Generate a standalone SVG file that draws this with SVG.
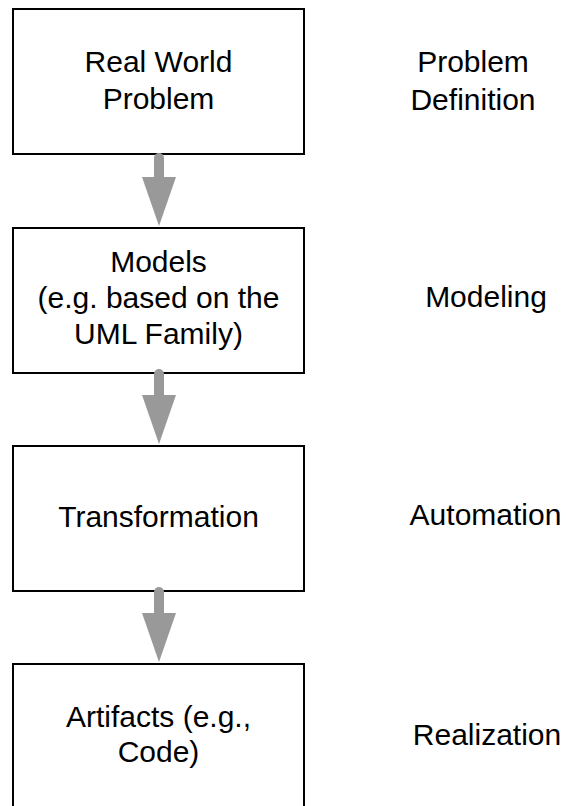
<svg xmlns="http://www.w3.org/2000/svg" width="567" height="806" viewBox="0 0 567 806">
  <style>
    .box { fill: #ffffff; stroke: #000000; stroke-width: 2; }
    .t { font-family: "Liberation Sans", Arial, sans-serif; font-size: 30px; fill: #000000; text-anchor: middle; }
    .arrow { stroke: #999999; stroke-width: 10; stroke-linecap: round; fill: none; }
  </style>
  <defs>
    <marker id="head" viewBox="0 0 49 34" refX="0" refY="17" markerWidth="49" markerHeight="34" markerUnits="userSpaceOnUse" orient="auto">
      <path d="M0,0 L49,17 L0,34 Z" fill="#999999"/>
    </marker>
  </defs>
  <rect width="567" height="806" fill="#ffffff"/>

  <g id="node-problem">
    <rect class="box" x="13" y="9" width="291" height="145"/>
    <text class="t" x="158.5" y="72">Real World</text>
    <text class="t" x="158.5" y="109">Problem</text>
  </g>
  <g id="node-models">
    <rect class="box" x="13" y="228" width="291" height="145"/>
    <text class="t" x="158.5" y="272">Models</text>
    <text class="t" x="158.5" y="308">(e.g. based on the</text>
    <text class="t" x="158.5" y="344">UML Family)</text>
  </g>
  <g id="node-transformation">
    <rect class="box" x="13" y="446" width="291" height="145"/>
    <text class="t" x="158.5" y="527">Transformation</text>
  </g>
  <g id="node-artifacts">
    <rect class="box" x="13" y="664" width="291" height="160"/>
    <text class="t" x="158.5" y="727">Artifacts (e.g.,</text>
    <text class="t" x="158.5" y="762">Code)</text>
  </g>

  <g id="labels">
    <text class="t" x="473" y="72">Problem</text>
    <text class="t" x="473" y="110">Definition</text>
    <text class="t" x="486" y="307">Modeling</text>
    <text class="t" x="485.5" y="525">Automation</text>
    <text class="t" x="487" y="745">Realization</text>
  </g>

  <g id="connectors">
    <line class="arrow" x1="159" y1="158" x2="159" y2="177" marker-end="url(#head)"/>
    <line class="arrow" x1="159" y1="374" x2="159" y2="395" marker-end="url(#head)"/>
    <line class="arrow" x1="159" y1="592" x2="159" y2="613" marker-end="url(#head)"/>
  </g>
</svg>
